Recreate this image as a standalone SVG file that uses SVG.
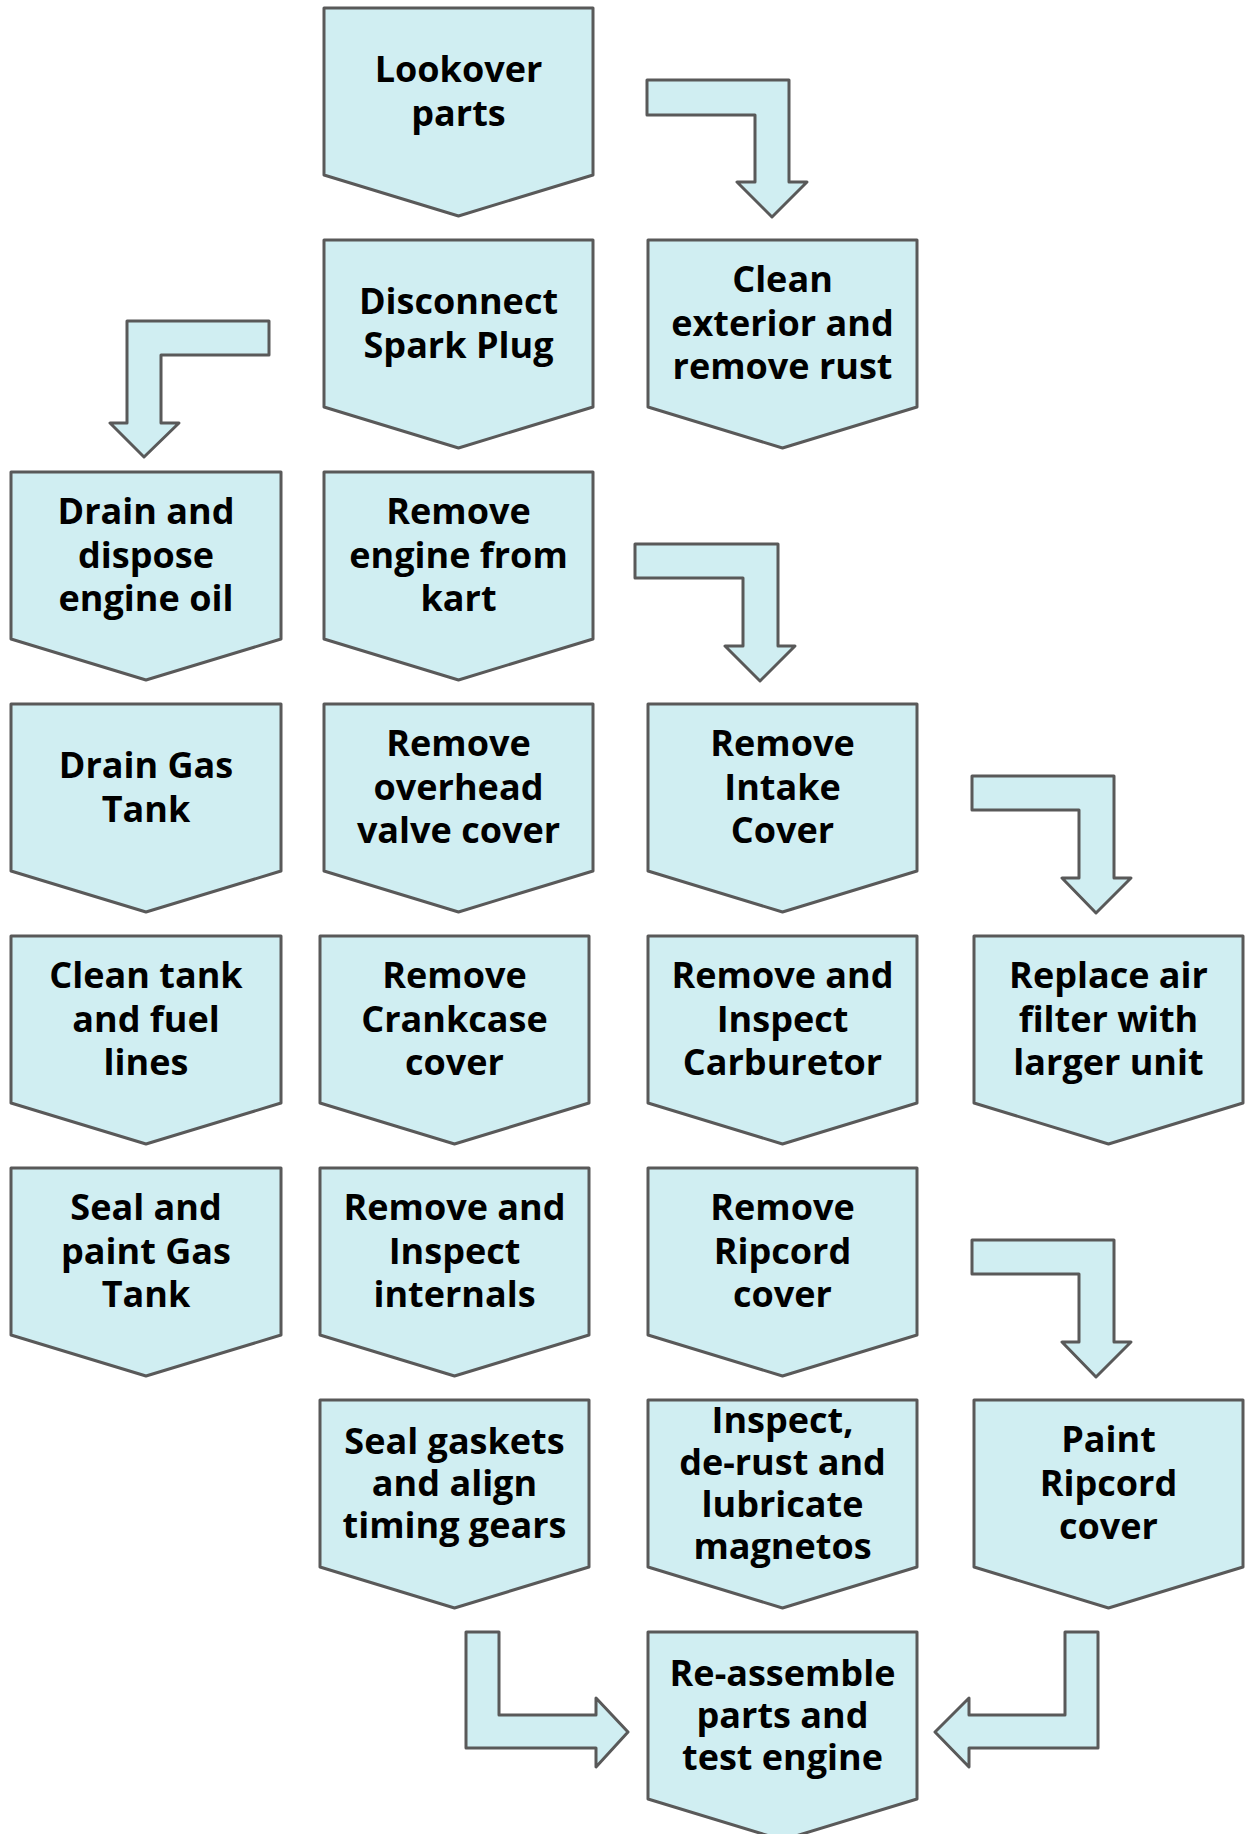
<svg xmlns="http://www.w3.org/2000/svg" width="1247" height="1834" viewBox="0 0 1247 1834">
<style>
.box{fill:#D0EEF2;stroke:#595959;stroke-width:3;stroke-linejoin:round}
.arr{fill:#D0EEF2;stroke:#595959;stroke-width:3;stroke-linejoin:round}
text{font-family:"Open Sans","Liberation Sans",sans-serif;font-weight:700;font-size:36px;fill:#000;text-anchor:middle}
</style>
<rect width="1247" height="1834" fill="#FFFFFF"/>
<g id="connectors">
<polygon class="arr" points="647,80 789,80 789,182 807,182 772,217 737,182 755,182 755,115 647,115"/>
<polygon class="arr" points="269,321 269,355 161,355 161,423 179,423 144,457 110,423 127,423 127,321"/>
<polygon class="arr" points="635,544 778,544 778,646 795,646 760,681 725,646 743,646 743,578 635,578"/>
<polygon class="arr" points="972,776 1114,776 1114,878 1131,878 1096,913 1062,878 1079,878 1079,810 972,810"/>
<polygon class="arr" points="972,1240 1114,1240 1114,1342 1131,1342 1096,1377 1062,1342 1079,1342 1079,1274 972,1274"/>
<polygon class="arr" points="466,1632 499,1632 499,1715 596,1715 596,1698 628,1732 596,1767 596,1748 466,1748"/>
<polygon class="arr" points="1098,1632 1065,1632 1065,1715 969,1715 969,1698 935,1732 969,1767 969,1748 1098,1748"/>
</g>
<g id="n-lookover">
<path class="box" d="M324,8 H593 V175 L458.5,216 L324,175 Z"/>
<text x="458.5" y="82">Lookover</text><text x="458.5" y="126">parts</text>
</g>
<g id="n-disconnect">
<path class="box" d="M324,240 H593 V407 L458.5,448 L324,407 Z"/>
<text x="458.5" y="314">Disconnect</text><text x="458.5" y="358">Spark Plug</text>
</g>
<g id="n-clean-exterior">
<path class="box" d="M648,240 H917 V407 L782.5,448 L648,407 Z"/>
<text x="782.5" y="292">Clean</text><text x="782.5" y="335.5">exterior and</text><text x="782.5" y="379">remove rust</text>
</g>
<g id="n-drain-oil">
<path class="box" d="M11,472 H281 V639 L146,680 L11,639 Z"/>
<text x="146" y="524">Drain and</text><text x="146" y="567.5">dispose</text><text x="146" y="611">engine oil</text>
</g>
<g id="n-remove-engine">
<path class="box" d="M324,472 H593 V639 L458.5,680 L324,639 Z"/>
<text x="458.5" y="524">Remove</text><text x="458.5" y="567.5">engine from</text><text x="458.5" y="611">kart</text>
</g>
<g id="n-drain-gas">
<path class="box" d="M11,704 H281 V871 L146,912 L11,871 Z"/>
<text x="146" y="778">Drain Gas</text><text x="146" y="822">Tank</text>
</g>
<g id="n-remove-overhead">
<path class="box" d="M324,704 H593 V871 L458.5,912 L324,871 Z"/>
<text x="458.5" y="756">Remove</text><text x="458.5" y="799.5">overhead</text><text x="458.5" y="843">valve cover</text>
</g>
<g id="n-remove-intake">
<path class="box" d="M648,704 H917 V871 L782.5,912 L648,871 Z"/>
<text x="782.5" y="756">Remove</text><text x="782.5" y="799.5">Intake</text><text x="782.5" y="843">Cover</text>
</g>
<g id="n-clean-tank">
<path class="box" d="M11,936 H281 V1103 L146,1144 L11,1103 Z"/>
<text x="146" y="988">Clean tank</text><text x="146" y="1031.5">and fuel</text><text x="146" y="1075">lines</text>
</g>
<g id="n-remove-crankcase">
<path class="box" d="M320,936 H589 V1103 L454.5,1144 L320,1103 Z"/>
<text x="454.5" y="988">Remove</text><text x="454.5" y="1031.5">Crankcase</text><text x="454.5" y="1075">cover</text>
</g>
<g id="n-carburetor">
<path class="box" d="M648,936 H917 V1103 L782.5,1144 L648,1103 Z"/>
<text x="782.5" y="988">Remove and</text><text x="782.5" y="1031.5">Inspect</text><text x="782.5" y="1075">Carburetor</text>
</g>
<g id="n-air-filter">
<path class="box" d="M974,936 H1243 V1103 L1108.5,1144 L974,1103 Z"/>
<text x="1108.5" y="988">Replace air</text><text x="1108.5" y="1031.5">filter with</text><text x="1108.5" y="1075">larger unit</text>
</g>
<g id="n-seal-paint">
<path class="box" d="M11,1168 H281 V1335 L146,1376 L11,1335 Z"/>
<text x="146" y="1220">Seal and</text><text x="146" y="1263.5">paint Gas</text><text x="146" y="1307">Tank</text>
</g>
<g id="n-internals">
<path class="box" d="M320,1168 H589 V1335 L454.5,1376 L320,1335 Z"/>
<text x="454.5" y="1220">Remove and</text><text x="454.5" y="1263.5">Inspect</text><text x="454.5" y="1307">internals</text>
</g>
<g id="n-ripcord">
<path class="box" d="M648,1168 H917 V1335 L782.5,1376 L648,1335 Z"/>
<text x="782.5" y="1220">Remove</text><text x="782.5" y="1263.5">Ripcord</text><text x="782.5" y="1307">cover</text>
</g>
<g id="n-gaskets">
<path class="box" d="M320,1400 H589 V1567 L454.5,1608 L320,1567 Z"/>
<text x="454.5" y="1453.5">Seal gaskets</text><text x="454.5" y="1495.5">and align</text><text x="454.5" y="1537.5">timing gears</text>
</g>
<g id="n-magnetos">
<path class="box" d="M648,1400 H917 V1567 L782.5,1608 L648,1567 Z"/>
<text x="782.5" y="1432.5">Inspect,</text><text x="782.5" y="1474.5">de-rust and</text><text x="782.5" y="1516.5">lubricate</text><text x="782.5" y="1558.5">magnetos</text>
</g>
<g id="n-paint-ripcord">
<path class="box" d="M974,1400 H1243 V1567 L1108.5,1608 L974,1567 Z"/>
<text x="1108.5" y="1452">Paint</text><text x="1108.5" y="1495.5">Ripcord</text><text x="1108.5" y="1539">cover</text>
</g>
<g id="n-reassemble">
<path class="box" d="M648,1632 H917 V1799 L782.5,1840 L648,1799 Z"/>
<text x="782.5" y="1685.5">Re-assemble</text><text x="782.5" y="1727.5">parts and</text><text x="782.5" y="1769.5">test engine</text>
</g>
</svg>
